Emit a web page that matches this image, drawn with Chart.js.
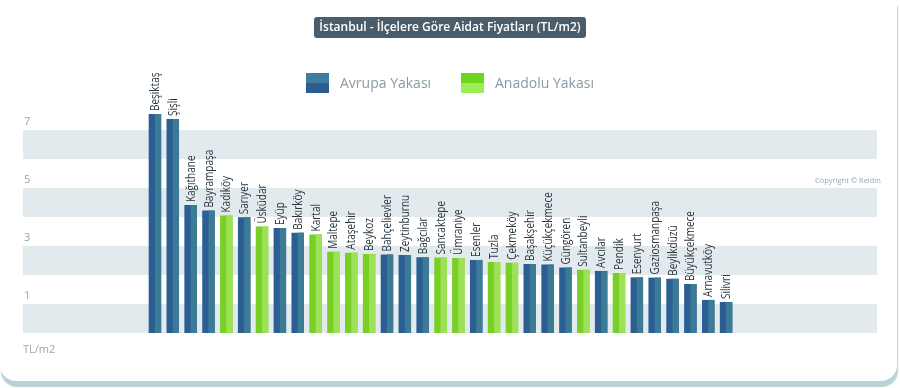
<!DOCTYPE html>
<html>
<head>
<meta charset="utf-8">
<script src="https://cdn.jsdelivr.net/npm/chart.js@4/dist/chart.umd.min.js"></script>
<style>
  html, body { margin: 0; padding: 0; background: #fff; }
  #card {
    position: absolute; left: 0; top: 0; width: 897px; height: 381px;
    background: #fff; border-radius: 0 0 16px 16px;
    box-shadow: 1px 6px 1px #b8d2d8;
  }
  #wrap { position: absolute; left: 0; top: 0; width: 900px; height: 388px; }
</style>
</head>
<body>
<div id="card"></div>
<div id="wrap"><canvas id="myChart" width="900" height="388"></canvas></div>
<script>
var districts = ["Beşiktaş", "Şişli", "Kağıthane", "Bayrampaşa", "Kadıköy", "Sarıyer", "Üsküdar", "Eyüp",
  "Bakırköy", "Kartal", "Maltepe", "Ataşehir", "Beykoz", "Bahçelievler", "Zeytinburnu", "Bağcılar",
  "Sancaktepe", "Ümraniye", "Esenler", "Tuzla", "Çekmeköy", "Başakşehir", "Küçükçekmece", "Güngören",
  "Sultanbeyli", "Avcılar", "Pendik", "Esenyurt", "Gaziosmanpaşa", "Beylikdüzü", "Büyükçekmece",
  "Arnavutköy", "Silivri"];
var fees = [7.55, 7.38, 4.41, 4.22, 4.05, 3.99, 3.67, 3.62, 3.46, 3.40, 2.80, 2.77, 2.72, 2.71, 2.69, 2.61,
  2.60, 2.59, 2.52, 2.45, 2.42, 2.38, 2.36, 2.26, 2.18, 2.14, 2.07, 1.92, 1.91, 1.87, 1.69, 1.14, 1.07];
// districts drawn on the Anatolian side (green)
var anadolu = ["Kadıköy", "Üsküdar", "Kartal", "Maltepe", "Ataşehir", "Beykoz", "Sancaktepe", "Ümraniye",
  "Tuzla", "Çekmeköy", "Sultanbeyli", "Pendik"];
var yLabels = [7, 5, 3, 1];
var bandStarts = [0, 2, 4, 6];

var avrupaData = districts.map(function (d, i) { return anadolu.indexOf(d) < 0 ? fees[i] : null; });
var anadoluData = districts.map(function (d, i) { return anadolu.indexOf(d) >= 0 ? fees[i] : null; });

var FONT = "'Open Sans', sans-serif";
var BLUE = "#2b5e93", BLUE_LIGHT = "#3c7b96";
var GREEN = "#78cf25", GREEN_LIGHT = "#9de157";

var decor = {
  id: "decor",
  beforeDatasetsDraw: function (chart) {
    var ctx = chart.ctx, y = chart.scales.y;
    ctx.save();
    // alternating bands
    ctx.fillStyle = "#e3eaed";
    bandStarts.forEach(function (v) {
      var top = y.getPixelForValue(v + 1), bot = y.getPixelForValue(v);
      ctx.fillRect(23, top, 854, bot - top);
    });
    // y labels
    ctx.fillStyle = "#9aa6ac";
    ctx.font = "11px " + FONT;
    ctx.textBaseline = "alphabetic";
    yLabels.forEach(function (v) {
      ctx.fillText(String(v), 24, y.getPixelForValue(v) - 5);
    });
    ctx.fillText("TL/m2", 23, 353);
    ctx.font = "7.5px " + FONT;
    ctx.fillText("Copyright \u00A9 Reidin", 815, 183);
    ctx.restore();
  },
  afterDatasetsDraw: function (chart) {
    var ctx = chart.ctx;
    ctx.save();
    chart.data.datasets.forEach(function (ds, di) {
      var light = di === 0 ? BLUE_LIGHT : GREEN_LIGHT;
      chart.getDatasetMeta(di).data.forEach(function (bar, i) {
        if (ds.data[i] == null) return;
        var w = bar.width;
        ctx.fillStyle = light;
        ctx.fillRect(bar.x, bar.y, w / 2, bar.base - bar.y);
        // district name above the bar (condensed look)
        ctx.save();
        ctx.translate(bar.x + 0.5, bar.y - 3);
        ctx.rotate(-Math.PI / 2);
        ctx.scale(0.8, 1);
        ctx.fillStyle = "#2a3740";
        ctx.font = "500 12.5px " + FONT;
        ctx.textAlign = "left";
        ctx.textBaseline = "middle";
        ctx.fillText(districts[i], 0, 0);
        ctx.restore();
      });
    });
    // title box
    ctx.fillStyle = "#4b5d6a";
    ctx.beginPath();
    ctx.roundRect(314, 17, 272, 21, 3);
    ctx.fill();
    ctx.fillStyle = "#fff";
    ctx.font = "600 12px " + FONT;
    ctx.textAlign = "center";
    ctx.textBaseline = "middle";
    ctx.fillText("İstanbul - İlçelere Göre Aidat Fiyatları (TL/m2)", 450, 28);
    // legend
    var items = [
      { x: 306, text: "Avrupa Yakası", top: "#3f7da1", bot: "#2a5c8f" },
      { x: 461, text: "Anadolu Yakası", top: "#6fd620", bot: "#9cee55" }
    ];
    items.forEach(function (it) {
      ctx.fillStyle = it.top;
      ctx.fillRect(it.x, 73, 23, 10);
      ctx.fillStyle = it.bot;
      ctx.fillRect(it.x, 83, 23, 10);
      ctx.fillStyle = "#8a99a2";
      ctx.font = "14px " + FONT;
      ctx.textAlign = "left";
      ctx.fillText(it.text, it.x + 34, 84);
    });
    ctx.restore();
  }
};

var ctx = document.getElementById("myChart").getContext("2d");
var myChart = new Chart(ctx, {
  type: "bar",
  data: {
    labels: districts,
    datasets: [
      { label: "Avrupa Yakası", data: avrupaData, backgroundColor: BLUE, grouped: false },
      { label: "Anadolu Yakası", data: anadoluData, backgroundColor: GREEN, grouped: false }
    ]
  },
  options: {
    responsive: false,
    animation: false,
    layout: { padding: { left: 146, right: 165, top: 101, bottom: 55 } },
    datasets: { bar: { categoryPercentage: 1, barPercentage: 0.7 } },
    scales: {
      x: { display: false },
      y: { display: false, min: 0, max: 8 }
    },
    plugins: { legend: { display: false }, tooltip: { enabled: false } }
  },
  plugins: [decor]
});
</script>
</body>
</html>
